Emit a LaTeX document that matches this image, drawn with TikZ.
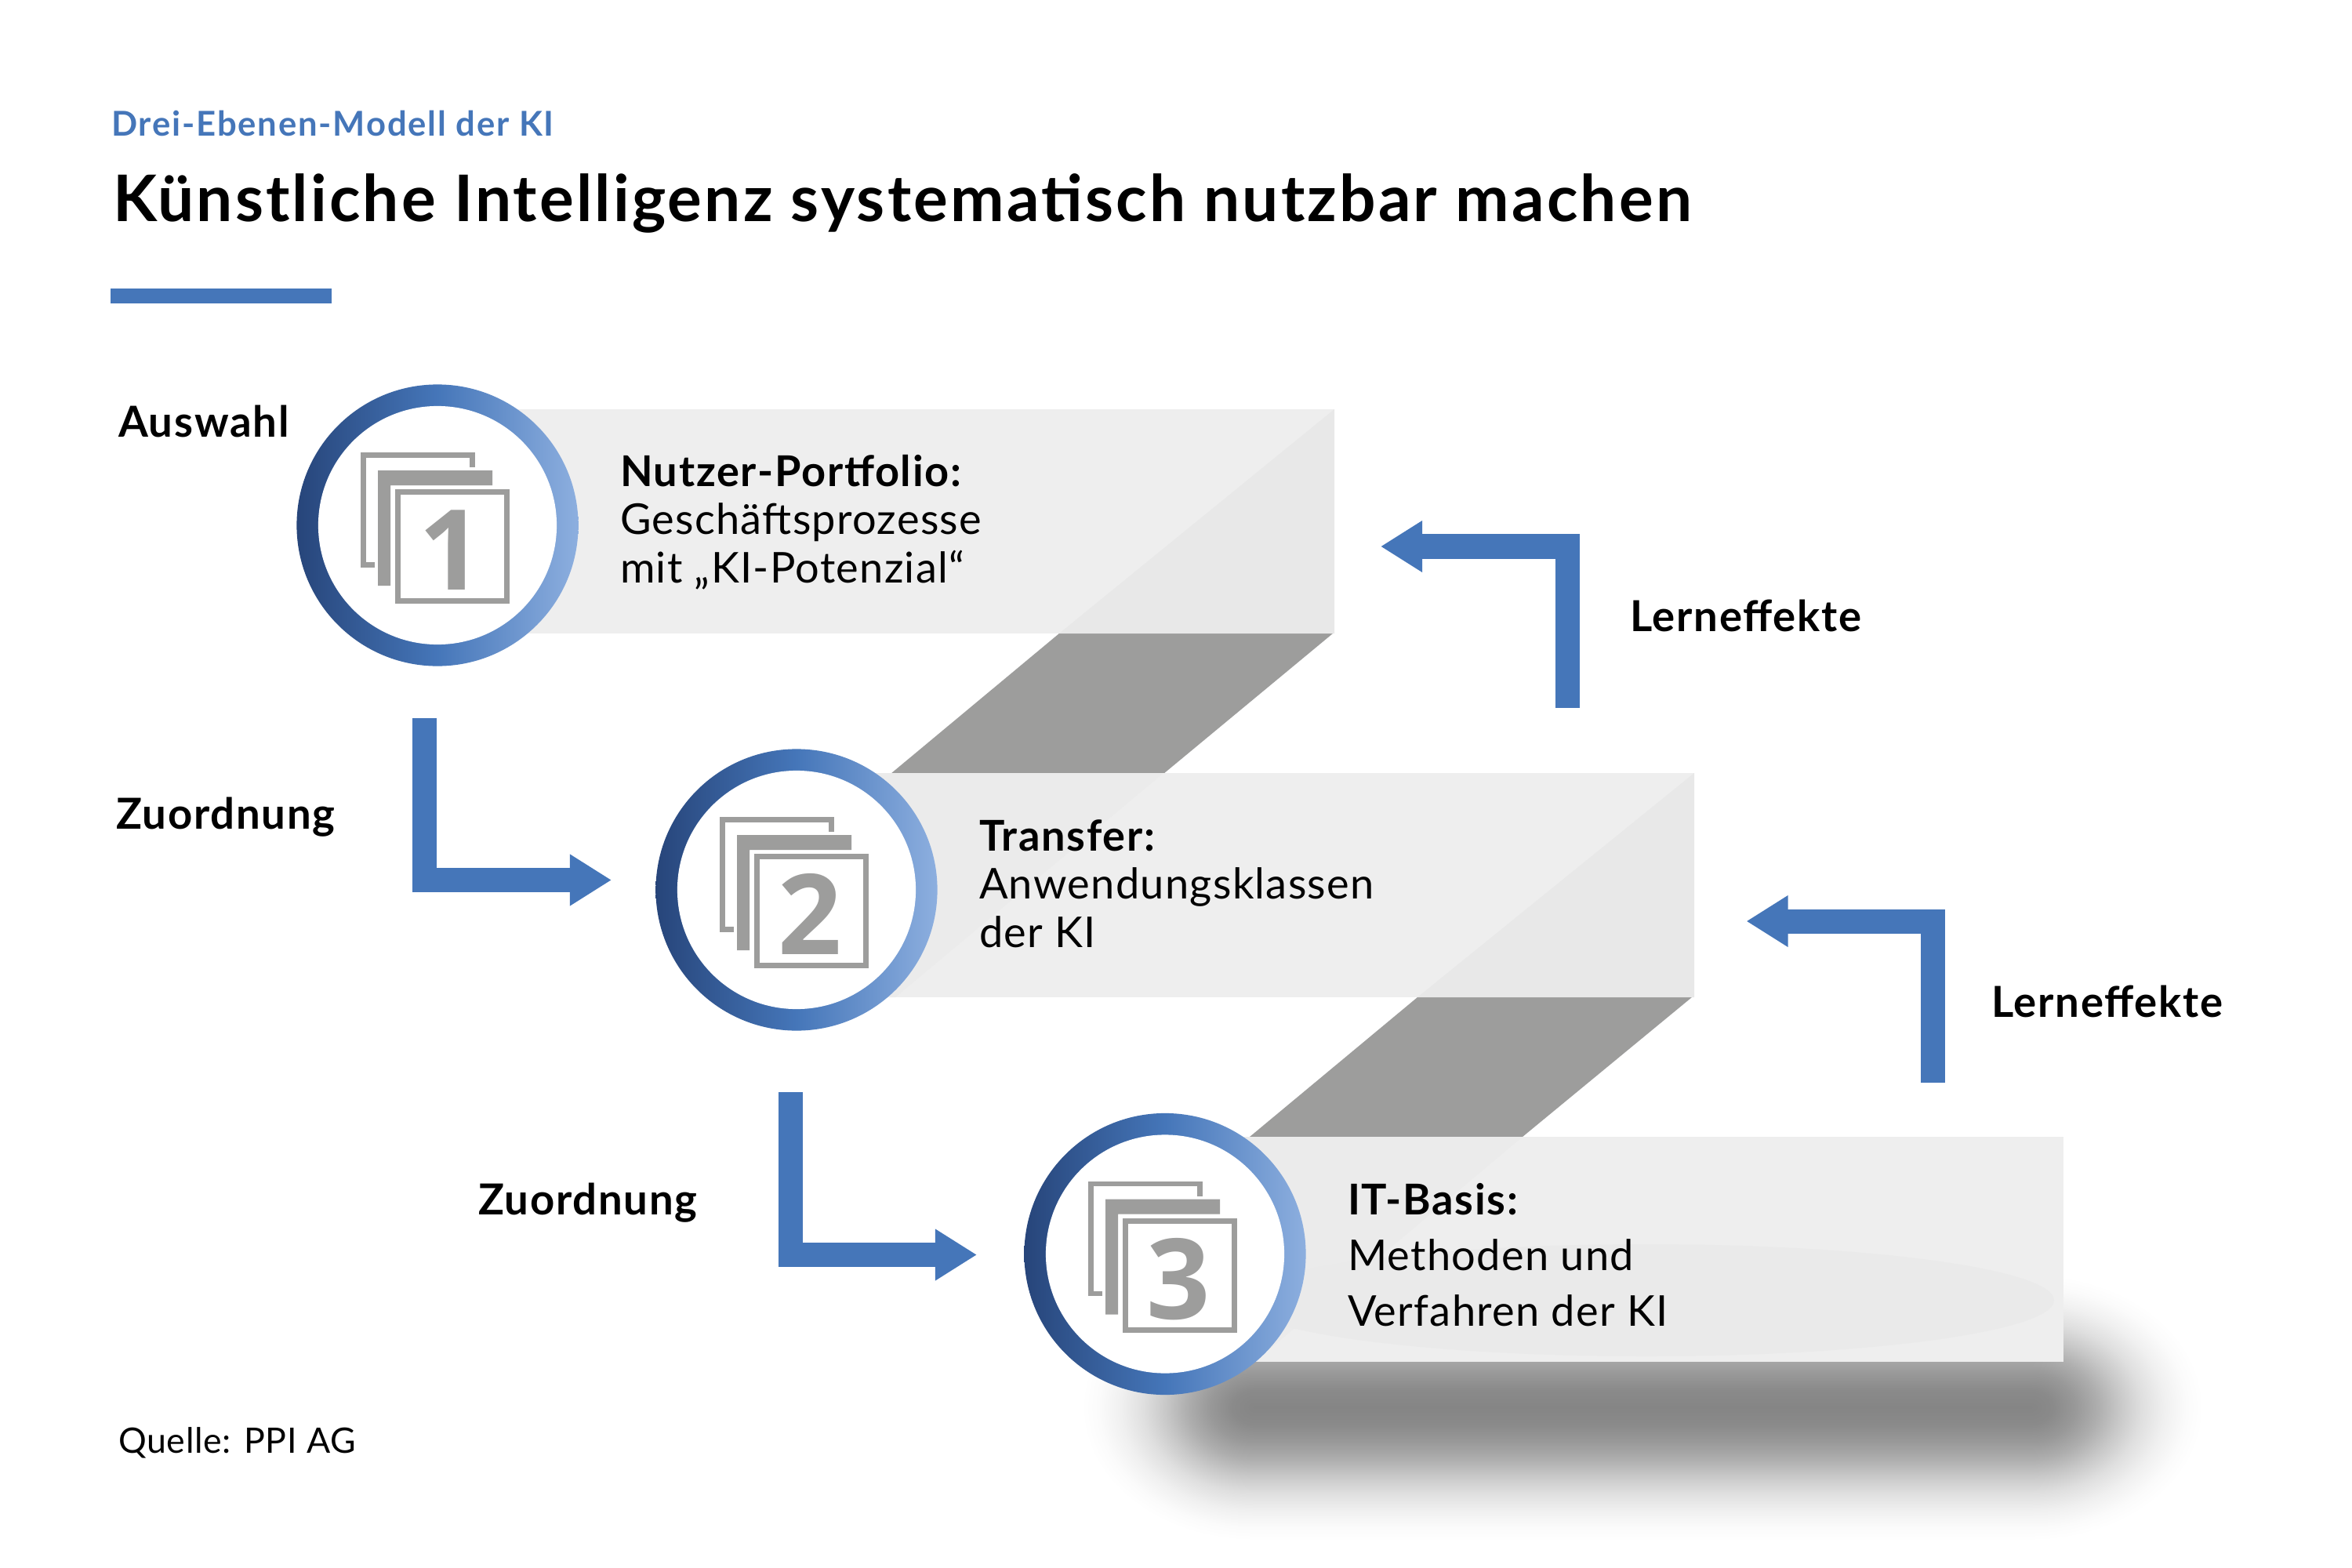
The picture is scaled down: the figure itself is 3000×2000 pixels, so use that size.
\documentclass[tikz,border=0pt]{standalone}
\usepackage{fontspec}
\setmainfont{Lato}
\newfontfamily\kickerfont{Lato}[LetterSpace=4.2]
\newfontfamily\titlefont{Lato}[LetterSpace=3.85]
\newfontfamily\boldsp{Lato}[LetterSpace=3.2]
\newfontfamily\bodysp{Lato}[LetterSpace=2.4]
\newfontfamily\sourcefont{Lato}[LetterSpace=1.6]
\newfontfamily\digitfont{Open Sans}
\usetikzlibrary{arrows.meta,calc}
\definecolor{piblue}{HTML}{4576B9}
\definecolor{ringdark}{HTML}{27457A}
\definecolor{ringlight}{HTML}{8DAFDF}
\definecolor{sheetgrey}{HTML}{9D9D9C}
\definecolor{panelbase}{HTML}{EEEEEE}
\definecolor{paneldark}{HTML}{E8E8E8}
\definecolor{panelleft}{HTML}{EBEBEB}
\definecolor{panelellipse}{HTML}{EAEAEA}
\pgfdeclareverticalshading{shadowband}{100bp}{%
  color(0bp)=(white); color(25bp)=(white);
  color(27.4bp)=(black!1.6); color(30.6bp)=(black!5.9); color(33.9bp)=(black!12.5);
  color(37.1bp)=(black!21.6); color(40.3bp)=(black!31.8); color(43.5bp)=(black!40);
  color(46.8bp)=(black!45.9); color(50bp)=(black!47.8);
  color(53.2bp)=(black!45.9); color(56.5bp)=(black!40); color(59.7bp)=(black!31.8);
  color(62.9bp)=(black!21.6); color(66.1bp)=(black!12.5); color(69.4bp)=(black!5.9);
  color(72.6bp)=(black!1.6); color(75bp)=(white); color(100bp)=(white)}
\pgfdeclareradialshading{shadowcap}{\pgfpoint{0bp}{0bp}}{%
  color(0bp)=(black!47.8); color(3.2bp)=(black!45.9); color(6.5bp)=(black!40);
  color(9.7bp)=(black!31.8); color(12.9bp)=(black!21.6); color(16.1bp)=(black!12.5);
  color(19.4bp)=(black!5.9); color(22.6bp)=(black!1.6); color(25bp)=(white); color(50bp)=(white)}
\tikzset{
  px/.style={x=0.01cm,y=-0.01cm},
  txt/.style={inner sep=0pt,outer sep=0pt,anchor=base west,align=left},
  boldlabel/.style={txt,font=\boldsp\bfseries\fontsize{15.5}{18}\selectfont},
  bodytext/.style={txt,font=\bodysp\fontsize{15.4}{17.4}\selectfont},
  bodytextwide/.style={txt,font=\bodysp\fontsize{15.4}{20.1}\selectfont},
  panel/.style={fill=panelbase,draw=none},
  facet/.style={fill=paneldark,draw=none},
  facetleft/.style={fill=panelleft,draw=none},
  stair/.style={fill=sheetgrey,draw=none},
  flow/.style={draw=piblue,line width=0.31cm,-{Triangle[length=0.53cm,width=0.62cm,fill=piblue]}},
  ring/.style={circle,draw=none,inner sep=0pt,minimum size=3.59cm,left color=ringdark,right color=ringlight,middle color=piblue},
  ringhole/.style={circle,fill=white,draw=none,inner sep=0pt,minimum size=3.04cm},
  digit/.style={inner sep=0pt,outer sep=0pt,anchor=base,text=sheetgrey,font=\digitfont\bfseries\fontsize{40.5}{44}\selectfont},
}
\newcommand{\sheets}[3]{%
  \begin{scope}[shift={(#1,#2)}]
    \draw[sheetgrey,line width=0.065cm,miter limit=10] (44.5,-74) -- (44.5,-89.5) -- (-94.5,-89.5) -- (-94.5,50.5) -- (-80,50.5);
    \fill[sheetgrey] (-76,-70) -- (70,-70) -- (70,-51) -- (-60,-51) -- (-60,77) -- (-76,77) -- cycle;
    \draw[sheetgrey,fill=white,line width=0.07cm] (-50.5,-42.5) rectangle (88.5,96.5);
    \node[digit] at (17,82.5) {#3};
  \end{scope}}
\begin{document}
\begin{tikzpicture}[px]
\useasboundingbox (0,0) rectangle (3000,2000);
\fill[white] (0,0) rectangle (3000,2000);

% header
\node[txt,text=piblue,font=\kickerfont\bfseries\fontsize{12.4}{15}\selectfont] (kicker) at (142,173) {Drei-Ebenen-Modell der KI};
\node[txt,font=\titlefont\bfseries\fontsize{23.3}{28}\selectfont] (title) at (144,282) {Künstliche Intelligenz systematisch nutzbar machen};
\fill[piblue] (141,368) rectangle (423,387);

% ground shadow: a band and two soft end caps
\shade[shading=shadowband] (1600,1625) rectangle (2590,1965);
\begin{scope}
  \clip (1370,1625) rectangle (1601,1965);
  \shade[shading=shadowcap] (1600,1795) ellipse [x radius=220,y radius=170];
\end{scope}
\begin{scope}
  \clip (2589,1625) rectangle (2820,1965);
  \shade[shading=shadowcap] (2590,1795) ellipse [x radius=220,y radius=170];
\end{scope}

% stair faces
\fill[stair] (1351,808) -- (1700,808) -- (1484,987) -- (1136,987) -- cycle;
\fill[stair] (1808,1272) -- (2158,1272) -- (1942,1450) -- (1594,1450) -- cycle;

% panels
\fill[panel] (558,522) rectangle (1702,808);
\fill[facet] (1702,522) -- (1702,808) -- (1351,808) -- cycle;

\fill[panel] (1016,986) rectangle (2161,1272);
\fill[facetleft] (1016,986) -- (1484,986) -- (1142,1272) -- (1016,1272) -- cycle;
\fill[facet] (2161,986) -- (2161,1272) -- (1808,1272) -- cycle;

\fill[panel] (1486,1450) rectangle (2632,1737);
\fill[facetleft] (1486,1450) -- (1942,1450) -- (1600,1737) -- (1486,1737) -- cycle;
\begin{scope}
  \clip (1486,1450) rectangle (2632,1737);
  \fill[panelellipse] (2100,1658.5) ellipse [x radius=520,y radius=71.5];
\end{scope}

% rings
\node[ring] (ringa) at (558,670) {};
\node[ringhole] (holea) at (ringa) {};
\sheets{558}{670}{1}
\node[ring] (ringb) at (1016,1135) {};
\node[ringhole] (holeb) at (ringb) {};
\sheets{1016}{1135}{2}
\node[ring] (ringc) at (1486,1599.5) {};
\node[ringhole] (holec) at (ringc) {};
\sheets{1486}{1599.5}{3}

% panel texts (anchored on the baseline of the last line)
\node[bodytext] (ta) at (791,743) {{\boldsp\bfseries Nutzer-Portfolio:}\\Geschäftsprozesse\\mit „KI-Potenzial“};
\node[bodytext] (tb) at (1249,1208) {{\boldsp\bfseries Transfer:}\\Anwendungsklassen\\der KI};
\node[bodytextwide] (tc) at (1719,1691) {{\boldsp\bfseries IT-Basis:}\\Methoden und\\Verfahren der KI};

% flow arrows
\coordinate (zas) at (541.5,916);
\coordinate (zae) at (780,1122.5);
\draw[flow] (zas) |- (zae);
\coordinate (zbs) at (1008,1393);
\coordinate (zbe) at (1246,1600.5);
\draw[flow] (zbs) |- (zbe);
\coordinate (las) at (1999,903);
\coordinate (lae) at (1761,697);
\draw[flow] (las) |- (lae);
\coordinate (lbs) at (2465.5,1381);
\coordinate (lbe) at (2227.5,1175);
\draw[flow] (lbs) |- (lbe);

% labels
\node[boldlabel] (auswahl) at (151,557) {Auswahl};
\node[boldlabel] (zuorda) at (148,1057) {Zuordnung};
\node[boldlabel] (zuordb) at (610,1549) {Zuordnung};
\node[boldlabel] (lerna) at (2079,805) {Lerneffekte};
\node[boldlabel] (lernb) at (2540,1297) {Lerneffekte};
\node[txt,font=\sourcefont\fontsize{12.7}{15}\selectfont] (quelle) at (151,1853) {Quelle: PPI AG};
\end{tikzpicture}
\end{document}
